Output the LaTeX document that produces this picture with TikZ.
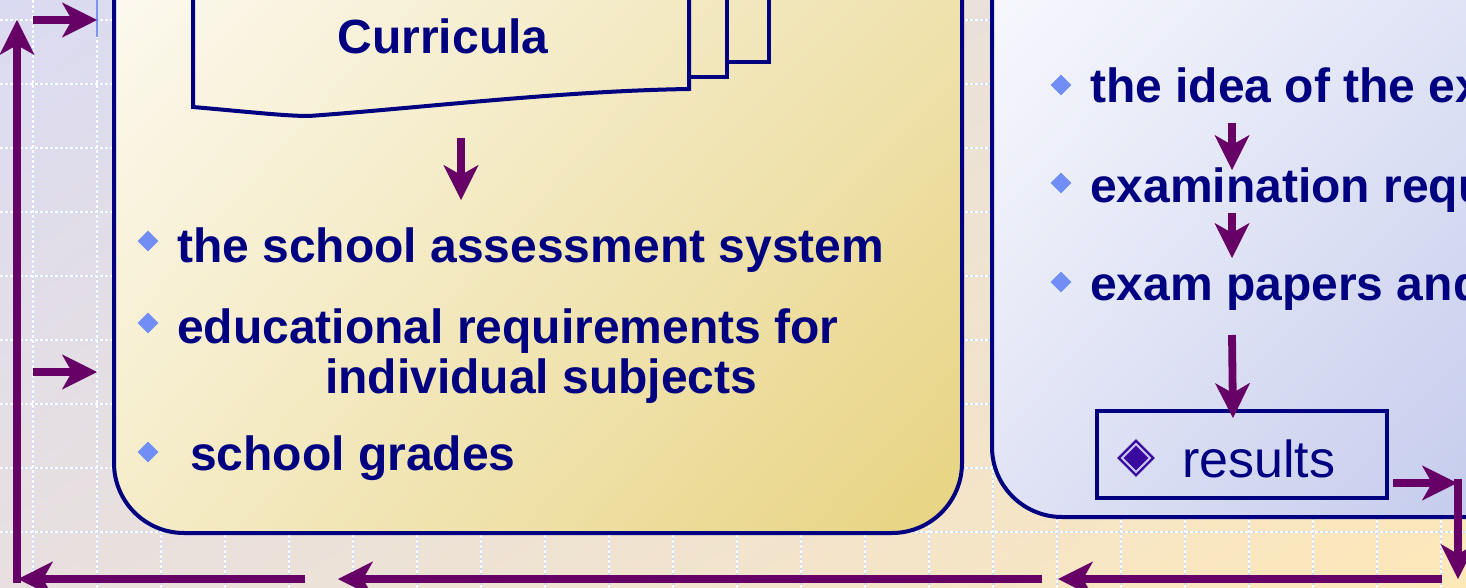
\documentclass[tikz,border=0pt]{standalone}
\usepackage{fontspec}
\setmainfont{Liberation Sans}
\usetikzlibrary{arrows.meta,shapes.geometric,shadings}
\definecolor{navy}{RGB}{0,0,128}
\definecolor{arrowc}{RGB}{102,0,102}
\definecolor{bulc}{RGB}{112,142,245}
\definecolor{bgUL}{RGB}{218,218,242}
\definecolor{bgUR}{RGB}{240,228,206}
\definecolor{bgLL}{RGB}{232,224,224}
\definecolor{bgLR}{RGB}{253,232,184}
\definecolor{lbUL}{RGB}{253,251,245}
\definecolor{lbUR}{RGB}{240,228,180}
\definecolor{lbLL}{RGB}{245,236,200}
\definecolor{lbLR}{RGB}{231,211,128}
\definecolor{rbUL}{RGB}{251,251,254}
\definecolor{rbUR}{RGB}{222,226,245}
\definecolor{rbLL}{RGB}{224,227,245}
\definecolor{rbLR}{RGB}{190,198,234}
\definecolor{gridblue}{RGB}{205,216,245}
\definecolor{fancyd}{RGB}{58,10,160}
\definecolor{fancyl}{RGB}{200,200,235}
\definecolor{thinblue}{RGB}{120,150,240}
\tikzset{
  gridb/.style={draw=gridblue, line width=1.6pt},
  gridw/.style={draw=white, line width=1.6pt, dash pattern=on 3pt off 2pt},
  boxline/.style={draw=navy, line width=4pt},
  arr/.style={draw=arrowc, line width=7.8pt, -{Stealth[length=35pt,width=35pt,inset=10pt,line width=0.5pt]}},
  txt/.style={text=navy, font=\fontsize{48}{56}\selectfont\bfseries, inner sep=0pt, anchor=base west},
  bul/.style={shape=diamond, fill=bulc, minimum width=21pt, minimum height=21pt, inner sep=0pt},
}
\begin{document}
\begin{tikzpicture}[x=1pt,y=-1pt]
\useasboundingbox (0,0) rectangle (1466,588);
\clip (0,0) rectangle (1466,588);
% background
\shade[upper left=bgUL, upper right=bgUR, lower left=bgLL, lower right=bgLR] (0,0) rectangle (1466,588);
% grid
\foreach \k in {0,...,22} {
  \draw[gridb] (33+64*\k,0) -- (33+64*\k,588);
}
\foreach \k in {0,...,8} {
  \draw[gridb] (0,20+64*\k) -- (1466,20+64*\k);
}
\foreach \k in {0,...,22} {
  \draw[gridw] (33+64*\k,0) -- (33+64*\k,588);
}
\foreach \k in {0,...,8} {
  \draw[gridw] (0,20+64*\k) -- (1466,20+64*\k);
}
\draw[draw=thinblue, line width=1.5pt] (97,0) -- (97,37);
% boxes
\node[boxline, rounded corners=70pt, shade, upper left=lbUL, upper right=lbUR, lower left=lbLL, lower right=lbLR,
      minimum width=848pt, minimum height=620pt, inner sep=0pt, anchor=south west] (lbox) at (112,535) {};
\node[boxline, rounded corners=70pt, shade, upper left=rbUL, upper right=rbUR, lower left=rbLL, lower right=rbLR,
      minimum width=600pt, minimum height=600pt, inner sep=0pt, anchor=south west] (rbox) at (990,519) {};
% curricula document
\draw[boxline, line join=miter] (769,-5) -- (769,62) -- (727,62);
\draw[boxline, line join=miter] (727,-5) -- (727,77) -- (689,77);
\draw[boxline, line join=miter] (193,-5) -- (193,107) .. controls (250,112) and (285,116) .. (309,116)
   .. controls (420,108) and (560,91) .. (689,89) -- (689,-5);
\node[txt, anchor=base] (curr) at (443,54) {Curricula};
% left box items
\node[bul] (lb1) at (148,241) {};
\node[txt] (t1) at (177,262) {the school assessment system};
\node[bul] (lb2) at (148,323) {};
\node[txt] (t2) at (177,343) {educational requirements for};
\node[txt] (t2b) at (325,393) {individual subjects};
\node[bul] (lb3) at (148,452) {};
\node[txt] (t3) at (190,470) {school grades};
% right box items (cut off at the right edge, as in the reference)
\node[bul] (rb1) at (1061,85) {};
\node[txt] (r1) at (1090,103) {the idea of the exam};
\node[bul] (rb2) at (1061,183) {};
\node[txt] (r2) at (1090,202) {examination requirements};
\node[bul] (rb3) at (1061,282) {};
\node[txt] (r3) at (1090,300) {exam papers and};
% results box
\node[boxline, minimum width=290pt, minimum height=87pt, inner sep=0pt, anchor=north west] (res) at (1095,409) {};
\node[shape=diamond, fill=fancyd, minimum width=38pt, minimum height=38pt, inner sep=0pt] (fd) at (1136,458) {};
\node[shape=diamond, fill=fancyl, minimum width=31pt, minimum height=31pt, inner sep=0pt] (fl) at (fd) {};
\node[shape=diamond, fill=fancyd, minimum width=25pt, minimum height=25pt, inner sep=0pt] (fc) at (fd) {};
\node[text=navy, font=\fontsize{52}{60}\selectfont, inner sep=0pt, anchor=base west] (rest) at (1182,477) {results};
% arrow coordinates
\coordinate (c1a) at (461,138);
\coordinate (c1b) at (461,200);
\coordinate (e1a) at (1232,123);
\coordinate (e1b) at (1232,170);
\coordinate (e2a) at (1232,213);
\coordinate (e2b) at (1232,258);
\coordinate (e3a) at (1232,335);
\coordinate (e3b) at (1233,418);
\coordinate (o1a) at (1393,483);
\coordinate (o1b) at (1457,483);
\coordinate (o2a) at (1458,479.1);
\coordinate (o2b) at (1458,579);
\coordinate (bAa) at (1442,579);
\coordinate (bAb) at (1058,579);
\coordinate (bBa) at (1042,579);
\coordinate (bBb) at (338,579);
\coordinate (bCa) at (305,579);
\coordinate (bCb) at (18,579);
\coordinate (va) at (17,582.9);
\coordinate (vb) at (17,20);
\coordinate (h1a) at (33,20);
\coordinate (h1b) at (97,20);
\coordinate (h2a) at (33,372);
\coordinate (h2b) at (97,372);
% arrows
\draw[arr] (c1a) -- (c1b);
\draw[arr] (e1a) -- (e1b);
\draw[arr] (e2a) -- (e2b);
\draw[arr] (e3a) -- (e3b);
\draw[arr] (o1a) -- (o1b);
\draw[arr] (o2a) -- (o2b);
\draw[arr] (bAa) -- (bAb);
\draw[arr] (bBa) -- (bBb);
\draw[arr] (bCa) -- (bCb);
\draw[arr] (va) -- (vb);
\draw[arr] (h1a) -- (h1b);
\draw[arr] (h2a) -- (h2b);
\end{tikzpicture}
\end{document}
